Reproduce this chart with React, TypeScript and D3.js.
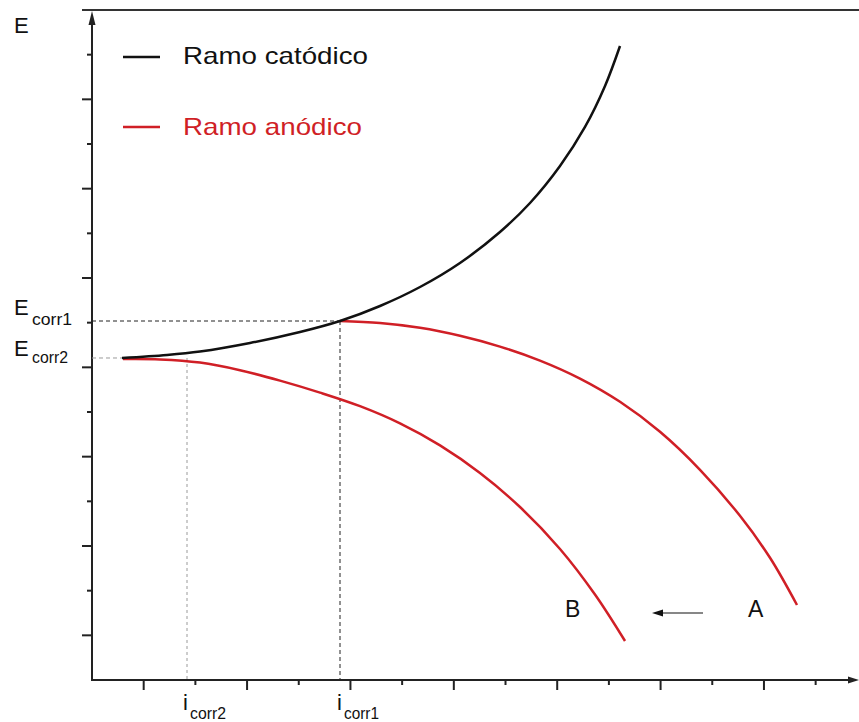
import React from "react";
import * as d3 from "d3";

// ---- data (arbitrary units: current i on x, potential E on y) ----
const cathodicI = [0.58, 1.451, 2.089, 3.057, 4.024, 4.798, 5.572, 6.346, 7.119, 7.893, 8.474, 9.054, 9.538, 9.925, 10.215];
const cathodicE = [7.209, 7.276, 7.354, 7.545, 7.791, 8.037, 8.373, 8.798, 9.336, 10.03, 10.679, 11.507, 12.381, 13.299, 14.194];

const anodicAI = [4.798, 5.572, 6.346, 7.119, 7.893, 8.667, 9.441, 10.215, 10.989, 11.763, 12.536, 13.117, 13.639];
const anodicAE = [8.037, 7.992, 7.885, 7.706, 7.464, 7.151, 6.748, 6.228, 5.557, 4.706, 3.676, 2.736, 1.679];

const anodicBI = [0.6, 1.316, 2.089, 2.863, 3.637, 4.411, 5.185, 5.959, 6.733, 7.506, 8.28, 9.054, 9.731, 10.312];
const anodicBE = [7.186, 7.178, 7.106, 6.936, 6.703, 6.434, 6.13, 5.745, 5.252, 4.634, 3.873, 2.933, 1.914, 0.873];

const xTicks = [1, 2, 3, 4, 5, 6, 7, 8, 9, 10, 11, 12, 13, 14];
const yTicks = [1, 2, 3, 4, 5, 6, 7, 8, 9, 10, 11, 12, 13, 14];

const Ecorr1 = 8.037;
const Ecorr2 = 7.209;
const icorr1 = 4.798;
const icorr2 = 1.838;
const cathodicStart = 0.58;

const legendLabels = ["Ramo catódico", "Ramo anódico"];
const curveLabels = ["A", "B"];

const RED = "#d01f26";
const FONT = "Arial, 'Liberation Sans', sans-serif";

export default function App() {
  const W = 859, H = 722;
  const x = d3.scaleLinear().domain([0, 14.8]).range([92, 857]);
  const y = d3.scaleLinear().domain([0, 15]).range([680, 10]);

  const line = d3
    .line<[number, number]>()
    .x((d) => x(d[0]))
    .y((d) => y(d[1]))
    .curve(d3.curveCatmullRom.alpha(0.5));

  const zip = (a: number[], b: number[]) => a.map((v, i) => [v, b[i]] as [number, number]);

  const x0 = x(0), y0 = y(0);

  return (
    <svg width={W} height={H} style={{ position: "absolute", left: 0, top: 0, background: "#fff" }} fontFamily={FONT}>
      {/* top border line */}
      <line x1={82} x2={859} y1={10} y2={10} stroke="#333" strokeWidth={2} />

      {/* axes */}
      <line x1={x0} x2={x0} y1={y0 + 1} y2={22} stroke="#222" strokeWidth={2} />
      <path d={`M${x0},${11} L${x0 - 3.5},${25} L${x0 + 3.5},${25} Z`} fill="#222" />
      <line x1={x0 - 1} x2={850} y1={y0} y2={y0} stroke="#222" strokeWidth={2} />
      <path d={`M${859},${y0} L${848},${y0 - 3.5} L${848},${y0 + 3.5} Z`} fill="#222" />

      {xTicks.map((t) => (
        <line key={"xt" + t} x1={x(t)} x2={x(t)} y1={y0} y2={y0 + (t % 2 === 1 ? 10 : 5)} stroke="#222" strokeWidth={2} />
      ))}
      {yTicks.map((t) => (
        <line key={"yt" + t} x1={x0} x2={x0 - (t % 2 === 1 ? 10 : 5)} y1={y(t)} y2={y(t)} stroke="#222" strokeWidth={2} />
      ))}

      {/* guide lines */}
      <line x1={x0} x2={x(icorr1)} y1={y(Ecorr1)} y2={y(Ecorr1)} stroke="#222" strokeWidth={1} strokeDasharray="4,3" />
      <line x1={x(icorr1)} x2={x(icorr1)} y1={y(Ecorr1)} y2={y0} stroke="#222" strokeWidth={1} strokeDasharray="4,3" />
      <line x1={x0} x2={x(cathodicStart)} y1={y(Ecorr2)} y2={y(Ecorr2)} stroke="#9a9a9a" strokeWidth={1} strokeDasharray="4,3" />
      <line x1={x(icorr2)} x2={x(icorr2)} y1={y(Ecorr2)} y2={y0} stroke="#9a9a9a" strokeWidth={1} strokeDasharray="3,3" />

      {/* curves */}
      <path d={line(zip(anodicBI, anodicBE)) || ""} fill="none" stroke={RED} strokeWidth={2.5} />
      <path d={line(zip(anodicAI, anodicAE)) || ""} fill="none" stroke={RED} strokeWidth={2.5} />
      <path d={line(zip(cathodicI, cathodicE)) || ""} fill="none" stroke="#111" strokeWidth={2.5} />

      {/* legend */}
      <line x1={123} x2={160} y1={57} y2={57} stroke="#111" strokeWidth={2.5} />
      <text x={183} y={64} fontSize={24} fill="#111" textLength={185} lengthAdjust="spacingAndGlyphs">{legendLabels[0]}</text>
      <line x1={123} x2={160} y1={127} y2={127} stroke={RED} strokeWidth={2.5} />
      <text x={183} y={135} fontSize={24} fill={RED} textLength={179} lengthAdjust="spacingAndGlyphs">{legendLabels[1]}</text>

      {/* axis labels */}
      <text x={14} y={33} fontSize={22} fill="#111">E</text>
      <text x={14} y={315} fontSize={22} fill="#111">E</text>
      <text x={32} y={325} fontSize={16} fill="#111" textLength={40} lengthAdjust="spacingAndGlyphs">corr1</text>
      <text x={14} y={356} fontSize={22} fill="#111">E</text>
      <text x={32} y={363} fontSize={16} fill="#111" textLength={36} lengthAdjust="spacingAndGlyphs">corr2</text>
      <text x={183} y={710} fontSize={22} fill="#111">i</text>
      <text x={190} y={719} fontSize={16} fill="#111" textLength={36} lengthAdjust="spacingAndGlyphs">corr2</text>
      <text x={337} y={710} fontSize={22} fill="#111">i</text>
      <text x={344} y={719} fontSize={16} fill="#111" textLength={35} lengthAdjust="spacingAndGlyphs">corr1</text>

      {/* A / B annotation */}
      <text x={748} y={617} fontSize={23} fill="#111">{curveLabels[0]}</text>
      <text x={565} y={617} fontSize={23} fill="#111">{curveLabels[1]}</text>
      <line x1={703} x2={660} y1={613} y2={613} stroke="#111" strokeWidth={1.2} />
      <path d="M652,613 L663,609.5 L663,616.5 Z" fill="#111" />
    </svg>
  );
}
